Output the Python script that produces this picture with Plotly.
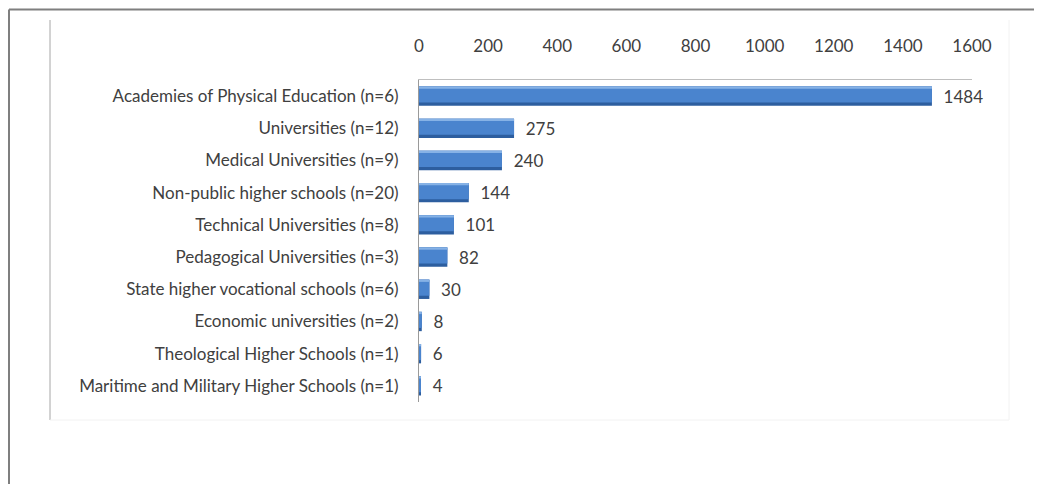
import plotly.graph_objects as go

categories = [
    "Academies of Physical Education (n=6)",
    "Universities (n=12)",
    "Medical Universities (n=9)",
    "Non-public higher schools (n=20)",
    "Technical Universities (n=8)",
    "Pedagogical Universities (n=3)",
    "State higher vocational schools (n=6)",
    "Economic universities (n=2)",
    "Theological Higher Schools (n=1)",
    "Maritime and Military Higher Schools (n=1)",
]
values = [1484, 275, 240, 144, 101, 82, 30, 8, 6, 4]
x_ticks = [0, 200, 400, 600, 800, 1000, 1200, 1400, 1600]

# page body has an 8px margin, so the figure is sized to fit the window
W, H = 1034, 476
L, R, T, B = 411, 964, 72, 394


def px(x):
    return (x - L) / (R - L)


def py(y):
    return (B - y) / (B - T)


font = "Lato, 'Open Sans', sans-serif"
FS = 17

fig = go.Figure()
# dark base (bottom shade)
fig.add_trace(go.Bar(
    x=values, y=categories, orientation="h",
    marker=dict(color="#2D5E9F", line=dict(width=0)),
    text=["\u00a0\u00a0" + str(v) for v in values], textposition="outside",
    textfont=dict(family=font, size=FS, color="#404040"),
    constraintext="none",
    cliponaxis=False, width=0.6, hoverinfo="skip",
))
# main body
fig.add_trace(go.Bar(
    x=values, y=categories, orientation="h",
    marker=dict(color="#4A84CE", line=dict(width=0)),
    width=0.5, offset=-0.3, hoverinfo="skip",
))
# light top edge
fig.add_trace(go.Bar(
    x=values, y=categories, orientation="h",
    marker=dict(color="#86B2E6", line=dict(width=0)),
    width=0.07, offset=-0.3, hoverinfo="skip",
))

fig.update_layout(
    width=W, height=H, barmode="overlay", showlegend=False,
    margin=dict(l=L, r=W - R, t=T, b=H - B),
    paper_bgcolor="white", plot_bgcolor="white",
    font=dict(family=font, size=FS, color="#404040"),
)
fig.update_xaxes(
    side="top", range=[0, 1600], tickvals=x_ticks,
    ticktext=[str(t) for t in x_ticks], showgrid=False, zeroline=False,
    showline=True, linecolor="#BFBFBF", linewidth=1, ticks="",
    tickfont=dict(family=font, size=FS, color="#404040"),
    ticklabelstandoff=20,
)
fig.update_yaxes(
    autorange="reversed", showgrid=False, zeroline=False,
    showline=True, linecolor="#9A9A9A", linewidth=1, ticks="",
    tickfont=dict(family=font, size=FS, color="#404040"),
    ticklabelstandoff=16,
)

shapes = [
    # outer frame
    dict(type="line", x0=px(1), x1=px(W), y0=py(1.5), y1=py(1.5), line=dict(color="#7F7F7F", width=2)),
    dict(type="line", x0=px(1), x1=px(1), y0=py(1.5), y1=py(H), line=dict(color="#7F7F7F", width=2)),
    # inner chart area
    dict(type="line", x0=px(42), x1=px(42), y0=py(12), y1=py(412), line=dict(color="#A6A6A6", width=1)),
    dict(type="line", x0=px(42), x1=px(1001), y0=py(412), y1=py(412), line=dict(color="#F2F2F2", width=1)),
    dict(type="line", x0=px(1001), x1=px(1001), y0=py(12), y1=py(412), line=dict(color="#F2F2F2", width=1)),
]
for s in shapes:
    s.update(xref="paper", yref="paper", layer="above")
fig.update_layout(shapes=shapes)

fig.write_html("out.html")
